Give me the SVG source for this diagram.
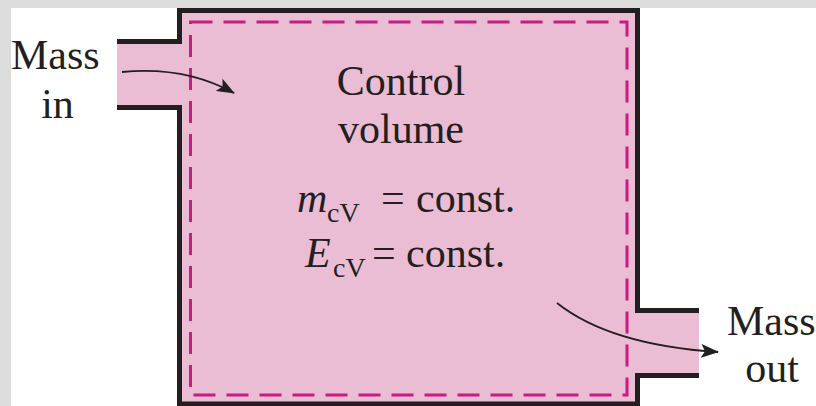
<svg xmlns="http://www.w3.org/2000/svg" width="816" height="406" viewBox="0 0 816 406">
<style>
.t{font-family:"Liberation Serif","Times New Roman",serif;fill:#231f20;font-size:42px}
.i{font-style:italic}
.s{font-size:28px}
.wall{fill:none;stroke:#231f20;stroke-width:5;stroke-linejoin:miter}
.cv{fill:none;stroke:#cc1a80;stroke-width:3;stroke-dasharray:22 11}
.arr{fill:none;stroke:#231f20;stroke-width:1.8}
</style>
<defs>
<marker id="ah" viewBox="0 0 18 14" refX="17" refY="7" markerWidth="18" markerHeight="14" markerUnits="userSpaceOnUse" orient="auto">
<path d="M0,0 L18,7 L0,14 L4,7 Z" fill="#231f20"/>
</marker>
</defs>
<rect x="0" y="0" width="816" height="406" fill="#ffffff"/>
<rect x="0" y="0" width="816" height="8" fill="#dcdcdc"/>
<rect x="0" y="0" width="11" height="406" fill="#dcdcdc"/>
<g id="vessel">
<path d="M117,41.5 H179.5 V10.5 H637.5 V310.5 H699 V375.5 H637.5 V404 H179.5 V107.5 H117 Z" fill="#ebbdd4"/>
<path class="wall" d="M117,41.5 H179.5 V10.5 H637.5 V310.5 H699 M699,375.5 H637.5 V404 H179.5 V107.5 H117"/>
</g>
<g id="control-volume">
<rect class="cv" x="190.5" y="22" width="436.5" height="373"/>
<text class="t" x="401" y="95" text-anchor="middle">Control</text>
<text class="t" x="401" y="143" text-anchor="middle">volume</text>
<text class="t"><tspan class="i" x="297" y="212">m</tspan><tspan class="s" x="327" y="222">cV</tspan><tspan x="381" y="212">=</tspan><tspan x="416" y="212">const.</tspan></text>
<text class="t"><tspan class="i" x="305" y="267">E</tspan><tspan class="s" x="333" y="277">cV</tspan><tspan x="372" y="267">=</tspan><tspan x="406" y="267">const.</tspan></text>
</g>
<g id="mass-in">
<text class="t" x="11" y="69">Mass</text>
<text class="t" x="57.5" y="118" text-anchor="middle">in</text>
</g>
<g id="mass-out">
<text class="t" x="727" y="335">Mass</text>
<text class="t" x="772" y="382" text-anchor="middle">out</text>
</g>
<g id="connectors">
<path class="arr" d="M122,72 Q185,66 234,93" marker-end="url(#ah)"/>
<path class="arr" d="M557,303 Q610,345 718,352" marker-end="url(#ah)"/>
</g>
</svg>
